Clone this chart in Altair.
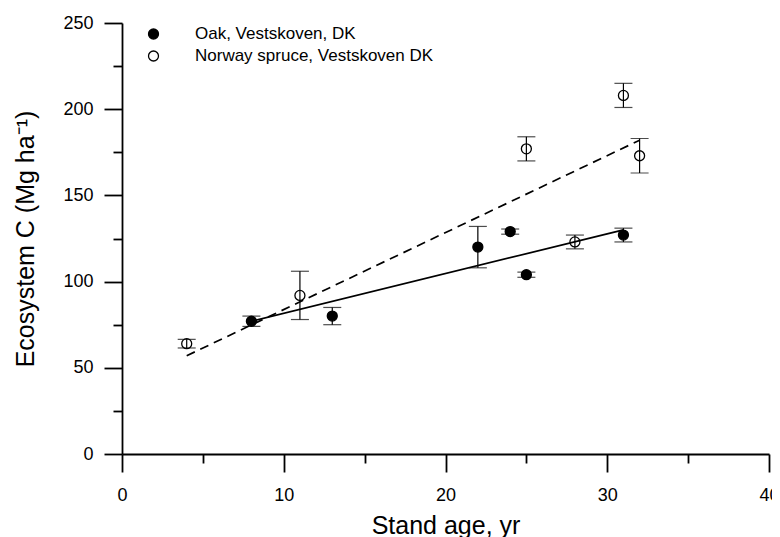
import altair as alt
import pandas as pd

# ---- data ----
series_names = ["Oak, Vestskoven, DK", "Norway spruce, Vestskoven DK"]

oak_age = [8, 13, 22, 24, 25, 31]
oak_c = [77, 80, 120, 129, 104, 127]
oak_err = [3, 5, 12, 1.5, 1.5, 4]

spruce_age = [4, 11, 25, 28, 31, 32]
spruce_c = [64, 92, 177, 123, 208, 173]
spruce_err = [2.5, 14, 7, 4, 7, 10]

# regression lines (end points)
oak_fit_age = [8, 31]
oak_fit_c = [77, 130]
spruce_fit_age = [4, 32]
spruce_fit_c = [57, 182]

x_ticks = [0, 5, 10, 15, 20, 25, 30, 35, 40]
y_ticks = [0, 25, 50, 75, 100, 125, 150, 175, 200, 225, 250]

# ---- tables ----
rows = []
for a, c, e in zip(oak_age, oak_c, oak_err):
    rows.append({"age": a, "c": c, "lo": c - e, "hi": c + e, "series": series_names[0]})
for a, c, e in zip(spruce_age, spruce_c, spruce_err):
    rows.append({"age": a, "c": c, "lo": c - e, "hi": c + e, "series": series_names[1]})
pts = pd.DataFrame(rows)

oak_fit = pd.DataFrame({"age": oak_fit_age, "c": oak_fit_c})
spruce_fit = pd.DataFrame({"age": spruce_fit_age, "c": spruce_fit_c})

FONT = "Liberation Sans"

x_axis = alt.Axis(
    values=x_ticks,
    labelExpr="datum.value % 10 === 0 ? datum.label : ''",
    tickSize={"condition": {"test": "datum.value % 10 === 0", "value": 18}, "value": 9},
    tickWidth=1.8, tickColor="black",
    domainWidth=1.8, domainColor="black",
    labelFontSize=18, labelColor="black", labelFont=FONT,
    labelBaseline="alphabetic", labelPadding=28,
    labelFlush=False, labelOverlap=False,
    grid=False,
    title="Stand age, yr", titleFontSize=25, titleFontWeight="normal",
    titleFont=FONT, titleColor="black",
    titleBaseline="alphabetic", titleY=79,
)
y_axis = alt.Axis(
    values=y_ticks,
    labelExpr="datum.value % 50 === 0 ? datum.label : ''",
    tickSize={"condition": {"test": "datum.value % 50 === 0", "value": 18}, "value": 9},
    tickWidth=1.8, tickColor="black",
    domainWidth=1.8, domainColor="black",
    labelFontSize=18, labelColor="black", labelFont=FONT,
    labelPadding=11, labelFlush=False, labelOverlap=False,
    grid=False,
    title="Ecosystem C (Mg ha⁻¹)", titleFontSize=25, titleFontWeight="normal",
    titleFont=FONT, titleColor="black",
    titleBaseline="alphabetic", titleX=-89,
)

xs = alt.Scale(domain=[0, 40], nice=False, zero=False)
ys = alt.Scale(domain=[0, 250], nice=False, zero=False)

errbars = alt.Chart(pts).mark_errorbar(
    ticks=True, size=18, thickness=1.2, color="black", orient="vertical"
).encode(
    x=alt.X("age:Q", scale=xs, axis=x_axis),
    y=alt.Y("lo:Q", scale=ys, axis=y_axis),
    y2="hi:Q",
)

points = alt.Chart(pts).mark_point(
    shape="circle", filled=True, stroke="black", strokeWidth=1.3, size=100, opacity=1
).encode(
    x=alt.X("age:Q", scale=xs, axis=x_axis),
    y=alt.Y("c:Q", scale=ys, axis=y_axis),
    fill=alt.Fill(
        "series:N",
        scale=alt.Scale(domain=series_names, range=["black", "transparent"]),
        legend=alt.Legend(
            title=None, orient="none", legendX=23, legendY=2.5,
            symbolType="circle", symbolSize=100, symbolStrokeColor="black",
            symbolStrokeWidth=1.3, symbolOpacity=1,
            labelFontSize=17, labelFont=FONT, labelColor="black",
            labelOffset=33, labelLimit=0, rowPadding=4, padding=0,
        ),
    ),
)

line_oak = alt.Chart(oak_fit).mark_line(color="black", strokeWidth=1.7).encode(
    x=alt.X("age:Q", scale=xs, axis=x_axis),
    y=alt.Y("c:Q", scale=ys, axis=y_axis),
)
line_spruce = alt.Chart(spruce_fit).mark_line(
    color="black", strokeWidth=1.7, strokeDash=[9, 6]
).encode(
    x=alt.X("age:Q", scale=xs, axis=x_axis),
    y=alt.Y("c:Q", scale=ys, axis=y_axis),
)

chart = alt.layer(errbars, line_oak, line_spruce, points).properties(
    width=647,
    height=431,
    autosize=alt.AutoSizeParams(type="none"),
    padding={"left": 114, "top": 15, "right": 3, "bottom": 83},
    background="white",
).configure_view(stroke=None)

chart.save("out.html", embed_options={"renderer": "svg", "actions": False})
